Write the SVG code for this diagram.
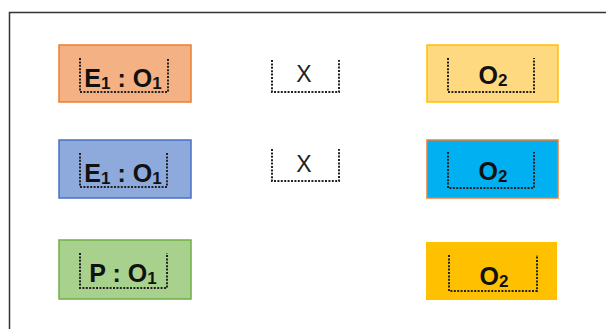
<svg xmlns="http://www.w3.org/2000/svg" width="606" height="329" viewBox="0 0 606 329">
<style>
  .dot { fill: none; stroke: #222; stroke-width: 2; stroke-dasharray: 2 1.4; }
  .lbl { font-family: "Liberation Sans", Arial, sans-serif; font-size: 25px; font-weight: bold; fill: #111; text-anchor: middle; }
  .x { font-family: "Liberation Sans", Arial, sans-serif; font-size: 23px; fill: #222; text-anchor: middle; }
  .sub { font-size: 17px; }
</style>
<rect x="0" y="0" width="606" height="329" fill="#fff"/>
<path d="M9.5 329 V12.5 H606" fill="none" stroke="#333" stroke-width="1.5"/>

<g id="n1">
  <rect x="59" y="45" width="132" height="57" fill="#F4B183" stroke="#ED7D31" stroke-width="1.5"/>
  <path class="dot" d="M80 58 V92 H168 V58"/>
  <text class="lbl" x="123" y="87">E<tspan class="sub" dy="2">1</tspan><tspan dy="-2"> : O</tspan><tspan class="sub" dy="2">1</tspan></text>
</g>
<g id="n2">
  <path class="dot" d="M272 60 V92 H339 V60"/>
  <text class="x" x="304" y="82">X</text>
</g>
<g id="n3">
  <rect x="427" y="45" width="131" height="57" fill="#FFD97F" stroke="#FFC000" stroke-width="1.5"/>
  <path class="dot" d="M448 58 V92 H534 V58"/>
  <text class="lbl" x="493" y="84">O<tspan class="sub" dy="2">2</tspan></text>
</g>

<g id="n4">
  <rect x="59" y="140" width="132" height="58" fill="#8EA9DB" stroke="#4472C4" stroke-width="1.5"/>
  <path class="dot" d="M80 153 V187 H167 V153"/>
  <text class="lbl" x="123" y="182">E<tspan class="sub" dy="2">1</tspan><tspan dy="-2"> : O</tspan><tspan class="sub" dy="2">1</tspan></text>
</g>
<g id="n5">
  <path class="dot" d="M272 149 V181 H339 V149"/>
  <text class="x" x="304" y="172">X</text>
</g>
<g id="n6">
  <rect x="427" y="140" width="131" height="58" fill="#00B0F0" stroke="#ED7D31" stroke-width="1.5"/>
  <path class="dot" d="M448 152 V188 H534 V152"/>
  <text class="lbl" x="493" y="180">O<tspan class="sub" dy="2">2</tspan></text>
</g>

<g id="n7">
  <rect x="59" y="240" width="132" height="59" fill="#A9D18E" stroke="#70AD47" stroke-width="1.5"/>
  <path class="dot" d="M80 253 V288 H167 V253"/>
  <text class="lbl" x="123" y="282">P : O<tspan class="sub" dy="2">1</tspan></text>
</g>
<g id="n8">
  <rect x="426" y="242" width="131" height="58" fill="#FFC000"/>
  <path class="dot" d="M449 255 V291 H537 V255"/>
  <text class="lbl" x="494" y="285">O<tspan class="sub" dy="2">2</tspan></text>
</g>
<g id="connectors"></g>
</svg>
